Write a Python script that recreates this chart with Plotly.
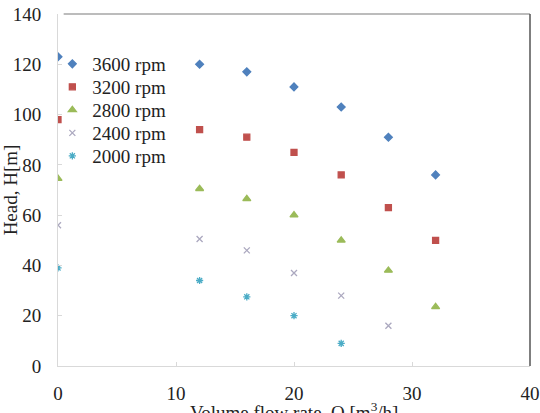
import plotly.graph_objects as go

flow = [0, 12, 16, 20, 24, 28, 32]
flow_2000 = [0, 12, 16, 20, 24]
flow_2400 = [0, 12, 16, 20, 24, 28]

head_3600 = [123, 120, 117, 111, 103, 91, 76]
head_3200 = [98, 94, 91, 85, 76, 63, 50]
head_2800 = [74.5, 70.5, 66.5, 60, 50, 38, 23.5]
head_2400 = [56, 50.5, 46, 37, 28, 16]
head_2000 = [39, 34, 27.5, 20, 9]

x_title = "Volume flow rate, Q [m<sup>3</sup>/h]"
y_title = "Head, H[m]"

series = [
    ("3600 rpm", flow, head_3600, "#4F81BD", "diamond", 6),
    ("3200 rpm", flow, head_3200, "#C0504D", "square", 6),
    ("2800 rpm", flow, head_2800, "#9BBB59", "triangle-up", 7),
    ("2400 rpm", flow_2400, head_2400, "#ABA8BF", "x-thin-open", 6),
    ("2000 rpm", flow_2000, head_2000, "#4BACC6", "asterisk-open", 6),
]

font = dict(family="Liberation Serif", size=19, color="#222222")

fig = go.Figure()
legend_layout = {}
legend_y = [0.858, 0.7926, 0.7273, 0.6619, 0.5966]
for i, (name, xs, ys, color, sym, size) in enumerate(series):
    lname = "legend" if i == 0 else f"legend{i+1}"
    fig.add_trace(go.Scatter(
        x=xs, y=ys, mode="markers", name=name, legend=lname,
        marker=dict(color=color, symbol=sym, size=size,
                    line=dict(color=color, width=1.3)),
    ))
    legend_layout[lname] = dict(x=-0.012, y=legend_y[i], xanchor="left", yanchor="middle",
                                bgcolor="rgba(0,0,0,0)", font=font)

fig.update_layout(
    width=540, height=413,
    margin=dict(l=58, r=10, t=14, b=47),
    paper_bgcolor="white", plot_bgcolor="white",
    font=font,
    showlegend=True,
    **legend_layout,
    xaxis=dict(range=[0, 40], dtick=10, showgrid=False, zeroline=False,
               showline=True, linecolor="#D9D9D9", linewidth=1,
               ticks="inside", ticklen=4, tickcolor="#D9D9D9",
               ticklabelstandoff=10, automargin=False,
               tickfont=font),
    yaxis=dict(range=[0, 140], dtick=20, showgrid=False, zeroline=False,
               showline=True, linecolor="#D9D9D9", linewidth=1,
               ticks="inside", ticklen=4, tickcolor="#D9D9D9",
               ticklabelstandoff=12, automargin=False,
               title=dict(text=y_title, standoff=4, font=font),
               tickfont=font),
)
fig.add_annotation(text=x_title, xref="paper", yref="paper", x=0.5, y=-0.128,
                   xanchor="center", yanchor="middle", showarrow=False, font=font)
fig.add_shape(type="line", xref="paper", yref="paper", x0=0.012, x1=1, y0=1, y1=1,
              line=dict(color="#A6A6A6", width=1.5))
fig.add_shape(type="line", xref="paper", yref="paper", x0=1, x1=1, y0=0, y1=1,
              line=dict(color="#555555", width=1.5))

fig.write_html("out.html")
